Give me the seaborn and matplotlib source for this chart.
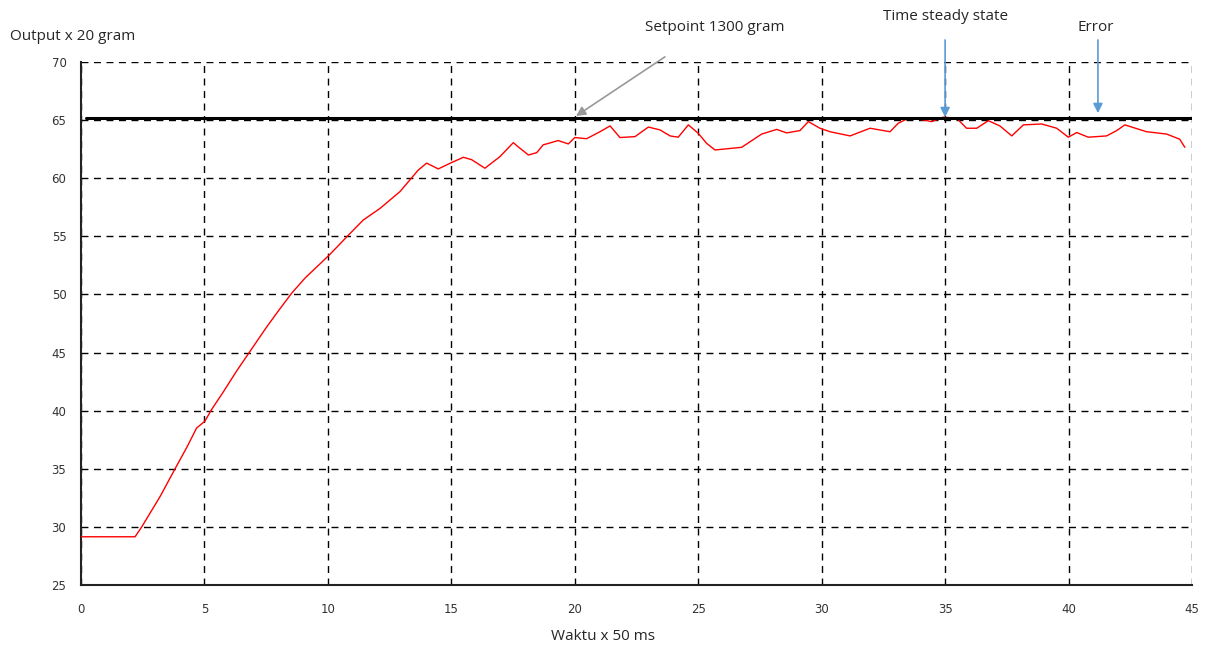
import matplotlib
matplotlib.use("Agg")
import matplotlib.pyplot as plt
import seaborn as sns
import pandas as pd

# Data
time_x = [0.0, 1.0, 2.19, 2.46, 3.2, 3.81, 4.3, 4.68, 5.02, 5.29, 5.76, 6.3, 6.78, 7.52,
          8.0, 8.53, 9.07, 10.06, 10.83, 11.43, 12.11, 12.92, 13.66, 14.0, 14.47, 15.01,
          15.49, 15.82, 16.36, 16.97, 17.51, 17.71, 18.12, 18.46, 18.72, 19.33, 19.74,
          20.0, 20.48, 21.02, 21.43, 21.83, 22.44, 22.98, 23.45, 23.86, 24.19, 24.6, 25.0,
          25.34, 25.68, 26.76, 27.57, 28.18, 28.58, 29.12, 29.46, 29.93, 30.34, 31.15,
          31.96, 32.77, 33.1, 33.51, 33.98, 34.45, 34.92, 35.47, 35.87, 36.28, 36.75,
          37.22, 37.7, 38.17, 38.91, 39.52, 39.99, 40.33, 40.8, 41.54, 41.95, 42.28,
          43.16, 43.97, 44.5, 44.71]
output_y = [29.15, 29.15, 29.15, 30.0, 32.6, 35.0, 36.9, 38.5, 39.1, 40.1, 41.6, 43.4, 44.9, 47.2,
            48.6, 50.1, 51.4, 53.4, 55.1, 56.4, 57.4, 58.85, 60.7, 61.3, 60.8, 61.35,
            61.8, 61.6, 60.86, 61.86, 63.06, 62.7, 62.0, 62.2, 62.87, 63.24, 62.95,
            63.5, 63.4, 64.0, 64.5, 63.5, 63.58, 64.4, 64.16, 63.64, 63.53, 64.59, 63.87,
            63.0, 62.43, 62.66, 63.8, 64.2, 63.9, 64.1, 64.87, 64.3, 64.0, 63.64,
            64.3, 64.0, 64.73, 65.16, 65.07, 64.87, 65.25, 65.16, 64.3, 64.3, 64.95,
            64.5, 63.64, 64.59, 64.67, 64.3, 63.53, 63.93, 63.53, 63.64, 64.1, 64.59,
            64.0, 63.8, 63.36, 62.66]
setpoint_x = [0.2, 45.0]
setpoint_y = [65.2, 65.2]
x_ticks = [0, 5, 10, 15, 20, 25, 30, 35, 40, 45]
y_ticks = [25, 30, 35, 40, 45, 50, 55, 60, 65, 70]

sns.set_style("white")
plt.rcParams['font.family'] = ['Open Sans', 'DejaVu Sans']

fig = plt.figure(figsize=(12.09, 6.48), dpi=100)
ax = fig.add_axes([81/1209, 1 - 585/648, (1192-81)/1209, (585-62)/648])

df = pd.DataFrame({"x": time_x, "y": output_y})
sp = pd.DataFrame({"x": setpoint_x, "y": setpoint_y})
sns.lineplot(data=df, x="x", y="y", ax=ax, color="#ff0000", linewidth=1.0, zorder=3)
sns.lineplot(data=sp, x="x", y="y", ax=ax, color="black", linewidth=2.2, zorder=4)

ax.set_xlim(0, 45)
ax.set_ylim(25, 70)
ax.set_xticks(x_ticks)
ax.set_yticks(y_ticks)
ax.grid(True, color="black", linestyle=(0, (5, 4)), linewidth=1.0)
ax.set_axisbelow(True)
for s in ["top", "right"]:
    ax.spines[s].set_visible(False)
for s in ["left", "bottom"]:
    ax.spines[s].set_color("#222222")
    ax.spines[s].set_linewidth(1.5)
ax.tick_params(axis="both", direction="inout", length=14, width=1.2, colors="#222222",
               labelsize=8.5, labelcolor="#333333")
ax.tick_params(axis="x", pad=6)
ax.set_xlabel("")
ax.set_ylabel("")
for lab in ax.get_xticklabels() + ax.get_yticklabels():
    lab.set_family(['Liberation Sans Narrow', 'DejaVu Sans'])

fig.text(10/1209, 1 - 37/648, "Output x 20 gram", fontsize=11, va="center", ha="left")
fig.text(603/1209, 1 - 637/648, "Waktu x 50 ms", fontsize=11, va="center", ha="center")

# annotation texts
ax.text(25.68, 72.93, "Setpoint 1300 gram", ha="center", va="center", fontsize=11, clip_on=False)
ax.text(35.0, 73.9, "Time steady state", ha="center", va="center", fontsize=11, clip_on=False)
ax.text(41.1, 72.93, "Error", ha="center", va="center", fontsize=11, clip_on=False)

# annotation arrows
ax.annotate("", xy=(20.05, 65.35), xytext=(23.65, 70.44), annotation_clip=False,
            arrowprops=dict(arrowstyle="-|>", color="#999999", lw=1.2,
                            shrinkA=0, shrinkB=0, mutation_scale=14))
ax.annotate("", xy=(35.0, 65.25), xytext=(35.0, 71.9), annotation_clip=False,
            arrowprops=dict(arrowstyle="-|>", color="#5b9bd5", lw=1.2,
                            shrinkA=0, shrinkB=0, mutation_scale=14))
ax.annotate("", xy=(41.19, 65.6), xytext=(41.19, 71.9), annotation_clip=False,
            arrowprops=dict(arrowstyle="-|>", color="#5b9bd5", lw=1.2,
                            shrinkA=0, shrinkB=0, mutation_scale=14))

fig.savefig("out.png", dpi=100)
